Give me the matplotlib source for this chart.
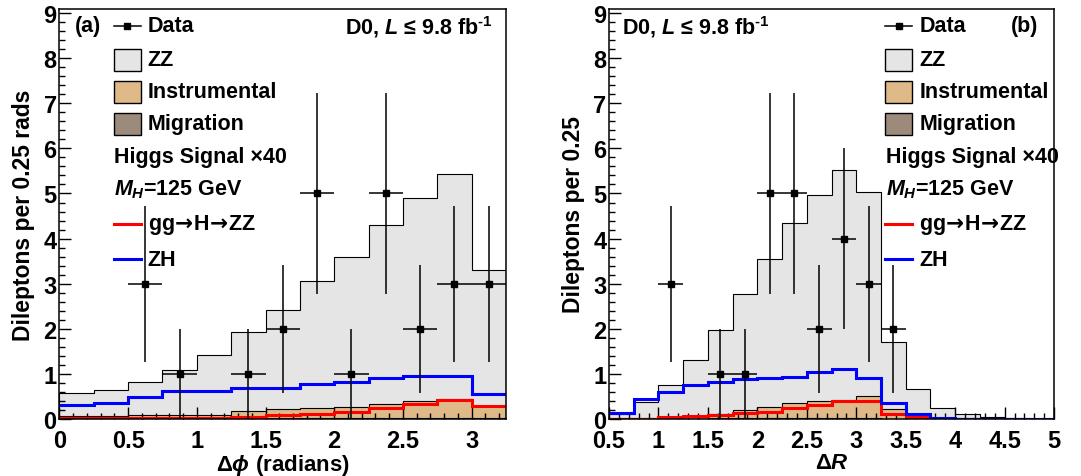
import numpy as np
import matplotlib
matplotlib.use("Agg")
from matplotlib import pyplot as plt
from matplotlib.patches import Rectangle
from matplotlib.lines import Line2D
from matplotlib.ticker import MultipleLocator, FormatStrFormatter


BIN_WIDTH = 0.25

# panel (a): delta phi, bins of 0.25 starting at 0
phi_start = 0.0
phi_data = [0, 0, 3, 1, 0, 1, 2, 5, 1, 5, 2, 3, 3]
phi_zz = [0.51, 0.57, 0.73, 1.01, 1.32, 1.75, 2.19, 2.82, 3.34, 3.98, 4.52, 4.99, 3.01]
phi_instr = [0.05, 0.05, 0.06, 0.06, 0.07, 0.16, 0.20, 0.22, 0.24, 0.30, 0.36, 0.41, 0.26]
phi_mig = [0.02, 0.02, 0.02, 0.02, 0.02, 0.02, 0.02, 0.02, 0.02, 0.03, 0.03, 0.03, 0.03]
phi_gg = [0.03, 0.02, 0.03, 0.03, 0.03, 0.05, 0.08, 0.12, 0.16, 0.24, 0.33, 0.42, 0.28]
phi_zh = [0.31, 0.36, 0.49, 0.62, 0.61, 0.68, 0.68, 0.77, 0.81, 0.91, 0.96, 0.96, 0.56]

# panel (b): delta R, bins of 0.25 starting at 0.5
dr_start = 0.5
dr_data = [0, 0, 3, 0, 1, 1, 5, 5, 2, 4, 3, 2, 0, 0, 0, 0, 0, 0]
dr_zz = [0.08, 0.35, 0.70, 1.24, 1.87, 2.56, 3.28, 3.98, 4.57, 5.10, 4.53, 1.48, 0.56, 0.22, 0.08, 0.04, 0.02, 0.01]
dr_instr = [0.01, 0.02, 0.04, 0.06, 0.08, 0.19, 0.24, 0.34, 0.38, 0.40, 0.49, 0.21, 0.10, 0.03, 0.02, 0.01, 0.0, 0.0]
dr_mig = [0.01, 0.01, 0.01, 0.01, 0.02, 0.02, 0.02, 0.02, 0.02, 0.02, 0.02, 0.01, 0.01, 0.0, 0.0, 0.0, 0.0, 0.0]
dr_gg = [0.0, 0.01, 0.04, 0.07, 0.09, 0.13, 0.16, 0.24, 0.30, 0.40, 0.40, 0.11, 0.05, 0.01, 0.0, 0.0, 0.0, 0.0]
dr_zh = [0.13, 0.44, 0.59, 0.75, 0.83, 0.89, 0.92, 0.93, 1.04, 1.10, 0.90, 0.36, 0.10, 0.03, 0.01, 0.01, 0.01, 0.01]

ZZ_COLOR = "#e5e5e5"
INSTR_COLOR = "#dfb988"
MIG_COLOR = "#9c8b7b"

plt.rcParams["font.family"] = ["Liberation Sans", "DejaVu Sans"]
plt.rcParams["font.weight"] = "bold"
plt.rcParams["axes.labelweight"] = "bold"
plt.rcParams["mathtext.fontset"] = "custom"
plt.rcParams["mathtext.rm"] = "Liberation Sans:bold"
plt.rcParams["mathtext.it"] = "Liberation Sans:bold:italic"
plt.rcParams["mathtext.bf"] = "Liberation Sans:bold"
plt.rcParams["mathtext.sf"] = "DejaVu Sans:bold"

FS = 15.5


def draw_hists(ax, start, data, zz, instr, mig, gg, zh):
    n = len(data)
    edges = start + BIN_WIDTH * np.arange(n + 1)
    mig = np.array(mig)
    low = mig + np.array(instr)
    top = low + np.array(zz)
    for vals, col in ((top, ZZ_COLOR), (low, INSTR_COLOR), (mig, MIG_COLOR)):
        ax.stairs(vals, edges, fill=True, facecolor=col, edgecolor="none", zorder=1)
        ax.stairs(vals, edges, color="black", lw=0.8, zorder=1.5)
    ax.stairs(gg, edges, baseline=None, color="#ff0000", lw=2.2, zorder=2)
    ax.stairs(zh, edges, baseline=None, color="#0000ff", lw=2.2, zorder=2)
    data = np.array(data)
    centers = 0.5 * (edges[1:] + edges[:-1])
    m = data > 0
    ax.errorbar(centers[m], data[m], yerr=np.sqrt(data[m]), xerr=BIN_WIDTH / 2,
                fmt="s", color="black", ms=4.5, elinewidth=1.1, capsize=0, zorder=3)


def style_axes(ax, xlim):
    ax.set_xlim(*xlim)
    ax.set_ylim(0, 9.09)
    ax.xaxis.set_major_locator(MultipleLocator(0.5))
    ax.xaxis.set_minor_locator(MultipleLocator(0.1))
    ax.yaxis.set_major_locator(MultipleLocator(1))
    ax.yaxis.set_minor_locator(MultipleLocator(0.2))
    ax.xaxis.set_major_formatter(FormatStrFormatter("%g"))
    ax.tick_params(which="both", direction="in", width=1.0, labelsize=17)
    ax.tick_params(which="major", length=8.5)
    ax.tick_params(which="minor", length=4.5)
    ax.tick_params(axis="x", pad=7)
    ax.tick_params(axis="y", pad=2)
    for s in ax.spines.values():
        s.set_linewidth(1.1)


def legend(ax, x_sym, x_text, x_note, rows_y, box_w, box_h):
    arrow = r"$\!\mathsf{\rightarrow}\!$"
    labels = ["Data", "ZZ", "Instrumental", "Migration", None, None,
              "gg" + arrow + "H" + arrow + "ZZ", "ZH"]
    tr = ax.transAxes
    for i, y in enumerate(rows_y):
        if i == 0:
            ax.add_line(Line2D([x_sym - box_w / 2, x_sym + box_w / 2], [y, y], color="black",
                               lw=1.1, transform=tr))
            ax.add_line(Line2D([x_sym], [y], marker="s", ms=4.5, color="black", transform=tr))
        elif i in (1, 2, 3):
            col = [ZZ_COLOR, INSTR_COLOR, MIG_COLOR][i - 1]
            ax.add_patch(Rectangle((x_sym - box_w / 2, y - box_h / 2), box_w, box_h,
                                   facecolor=col, edgecolor="black", lw=1.0, transform=tr))
        elif i in (6, 7):
            col = "#ff0000" if i == 6 else "#0000ff"
            ax.add_line(Line2D([x_sym - box_w / 2, x_sym + box_w / 2], [y, y], color=col,
                               lw=2.2, transform=tr))
        if labels[i] is not None:
            ax.text(x_text, y, labels[i], transform=tr, fontsize=FS, va="center", ha="left")
    ax.text(x_note, rows_y[4], "Higgs Signal \u00d740", transform=tr, fontsize=FS,
            va="center", ha="left")
    ax.text(x_note, rows_y[5], r"$M_H$=125 GeV", transform=tr, fontsize=FS,
            va="center", ha="left")


fig = plt.figure(figsize=(10.81, 4.77), dpi=100)
ax1 = fig.add_axes([0.055, 0.1195, 0.413, 0.8595])
ax2 = fig.add_axes([0.5634, 0.1195, 0.4117, 0.8595])

draw_hists(ax1, phi_start, phi_data, phi_zz, phi_instr, phi_mig, phi_gg, phi_zh)
style_axes(ax1, (phi_start, phi_start + BIN_WIDTH * len(phi_data)))
draw_hists(ax2, dr_start, dr_data, dr_zz, dr_instr, dr_mig, dr_gg, dr_zh)
style_axes(ax2, (dr_start, 5.0))

rows = [0.959, 0.876, 0.798, 0.720, 0.641, 0.561, 0.476, 0.390]
legend(ax1, 0.152, 0.198, 0.122, rows, 0.0605, 0.0537)
legend(ax2, 0.651, 0.697, 0.622, rows, 0.0607, 0.0537)

lumi = "D0, $L$ \u2264 9.8 fb$^{\u2010\\mathrm{1}}$"
ax1.text(0.064, 0.959, "(a)", transform=ax1.transAxes, fontsize=FS, va="center", ha="center")
ax1.text(0.971, 0.959, lumi, transform=ax1.transAxes, fontsize=FS, va="center", ha="right")
ax2.text(0.933, 0.959, "(b)", transform=ax2.transAxes, fontsize=FS, va="center", ha="center")
ax2.text(0.029, 0.959, lumi, transform=ax2.transAxes, fontsize=FS, va="center", ha="left")

ax1.set_xlabel(r"$\mathrm{\Delta}\phi$ (radians)", fontsize=FS + 0.5, labelpad=0)
ax1.set_ylabel("Dileptons per 0.25 rads", fontsize=FS + 1, labelpad=6)
ax2.set_xlabel(r"$\mathrm{\Delta}R$", fontsize=FS + 0.5, labelpad=0)
ax2.set_ylabel("Dileptons per 0.25", fontsize=FS + 1, labelpad=6)

fig.savefig("out.png", dpi=100)
